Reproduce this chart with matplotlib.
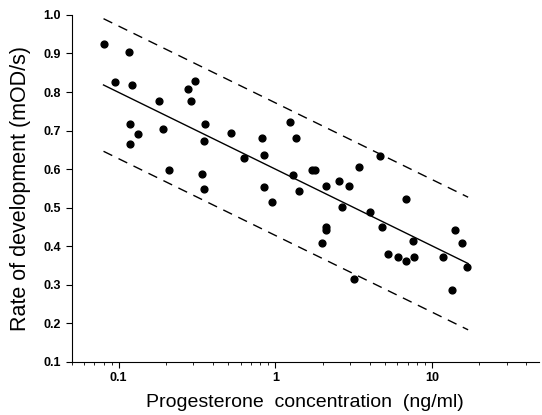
import numpy as np
import matplotlib.pyplot as plt
from matplotlib.ticker import FixedLocator, LogLocator, NullFormatter

# progesterone concentration (ng/ml) and rate of development (mOD/s)
conc = [0.081, 0.095, 0.116, 0.121, 0.118, 0.118, 0.133, 0.182, 0.193, 0.210,
        0.275, 0.291, 0.308, 0.356, 0.349, 0.342, 0.349, 0.520, 0.631, 0.817,
        0.842, 0.842, 0.951, 1.243, 1.361, 1.288, 1.418, 1.702, 1.790, 2.094,
        2.094, 2.094, 1.990, 2.565, 2.656, 2.953, 3.420, 3.185, 4.040, 4.680,
        4.770, 5.230, 6.030, 6.840, 6.840, 7.610, 7.640, 11.70, 14.00, 13.50,
        15.50, 16.80]
rate = [0.924, 0.825, 0.904, 0.818, 0.716, 0.664, 0.691, 0.776, 0.705, 0.597,
        0.808, 0.776, 0.829, 0.716, 0.673, 0.588, 0.548, 0.695, 0.629, 0.680,
        0.636, 0.553, 0.515, 0.721, 0.682, 0.584, 0.543, 0.599, 0.598, 0.555,
        0.451, 0.441, 0.409, 0.569, 0.501, 0.557, 0.605, 0.315, 0.490, 0.633,
        0.451, 0.379, 0.373, 0.522, 0.361, 0.413, 0.373, 0.371, 0.441, 0.287,
        0.408, 0.346]

# fitted line y = a + b*log10(x), with prediction band +/- band
fit_a = 0.600
fit_b = -0.199
band = 0.172
fit_range = [0.08, 17.0]

plt.rcParams['font.family'] = ['Liberation Sans', 'DejaVu Sans']

fig = plt.figure(figsize=(5.42, 4.15), dpi=100)
ax = fig.add_axes([0.132, 0.128, 0.862, 0.836])

xs = np.logspace(np.log10(fit_range[0]), np.log10(fit_range[1]), 50)
yfit = fit_a + fit_b * np.log10(xs)
ax.plot(xs, yfit, color='black', lw=1.0)
ax.plot(xs, yfit + band, color='black', lw=1.0, dashes=(7, 5))
ax.plot(xs, yfit - band, color='black', lw=1.0, dashes=(7, 5))

ax.scatter(conc, rate, s=24, color='black', zorder=3)

ax.set_xscale('log')
ax.set_xlim(0.05, 48)
ax.set_ylim(0.1, 1.0)
ax.yaxis.set_major_locator(FixedLocator(np.arange(0.1, 1.01, 0.1)))
ax.set_yticklabels(['%.1f' % v for v in np.arange(0.1, 1.01, 0.1)])
ax.xaxis.set_major_locator(FixedLocator([0.1, 1, 10]))
ax.set_xticklabels(['0.1', '1', '10'])
ax.xaxis.set_minor_locator(LogLocator(base=10, subs=np.arange(2, 10)))
ax.xaxis.set_minor_formatter(NullFormatter())

for side in ['top', 'right']:
    ax.spines[side].set_visible(False)
ax.tick_params(axis='both', which='major', labelsize=9, length=4, direction='out')
ax.tick_params(axis='x', which='minor', length=2, direction='out')
for lab in ax.get_xticklabels() + ax.get_yticklabels():
    lab.set_fontweight('bold')

ax.set_xlabel('Progesterone  concentration  (ng/ml)', fontsize=14, labelpad=7)
ax.set_ylabel('Rate of development (mOD/s)', fontsize=15.5, labelpad=9)

fig.savefig('out.png', dpi=100)
